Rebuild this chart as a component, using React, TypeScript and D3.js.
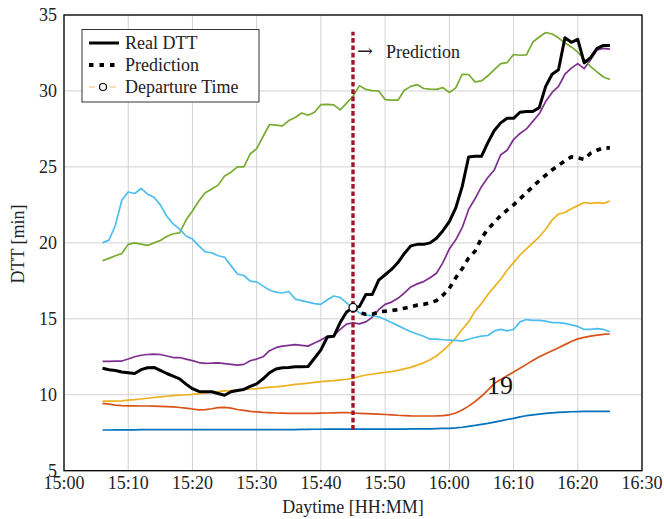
import * as d3 from "d3";
import { useEffect } from "react";

// minutes after 15:00, one sample per minute (15:06 .. 16:25)
const minutes = d3.range(6, 86);
const predMinutes = d3.range(45, 86);

const realDTT = [
  11.75, 11.65, 11.6, 11.5, 11.45, 11.4, 11.65, 11.78, 11.8, 11.6,
  11.4, 11.23, 11.05, 10.7, 10.4, 10.22, 10.2, 10.2, 10.08, 9.97,
  10.2, 10.28, 10.35, 10.55, 10.72, 11.05, 11.45, 11.7, 11.78, 11.8,
  11.85, 11.85, 11.86, 12.4, 12.95, 13.8, 13.85, 14.75, 15.45, 15.75,
  15.8, 16.6, 16.6, 17.55, 17.9, 18.25, 18.7, 19.3, 19.8, 19.9,
  19.9, 20.0, 20.3, 20.8, 21.4, 22.3, 23.7, 25.65, 25.7, 25.7,
  26.6, 27.4, 27.9, 28.2, 28.2, 28.6, 28.65, 28.65, 28.9, 30.3,
  31.1, 31.4, 33.5, 33.2, 33.4, 31.85, 32.2, 32.8, 33.0, 33.0,
];

const prediction = [
  15.75, 15.4, 15.3, 15.3, 15.45, 15.5, 15.55, 15.6, 15.7, 15.8,
  15.9, 15.95, 16.05, 16.2, 16.55, 17.0, 17.7, 18.3, 19.0, 19.45,
  20.3, 20.9, 21.35, 21.8, 22.15, 22.5, 22.9, 23.3, 23.7, 24.1,
  24.45, 24.8, 25.1, 25.4, 25.66, 25.6, 25.5, 25.9, 26.1, 26.25, 26.25,
];

const blueSeries = [
  7.68, 7.68, 7.69, 7.69, 7.69, 7.69, 7.7, 7.7, 7.7, 7.7,
  7.7, 7.7, 7.7, 7.7, 7.7, 7.7, 7.7, 7.7, 7.7, 7.7,
  7.7, 7.7, 7.7, 7.7, 7.7, 7.7, 7.7, 7.7, 7.7, 7.7,
  7.71, 7.72, 7.72, 7.73, 7.73, 7.74, 7.74, 7.74, 7.74, 7.74,
  7.74, 7.74, 7.74, 7.74, 7.74, 7.74, 7.74, 7.74, 7.75, 7.75,
  7.75, 7.76, 7.77, 7.78, 7.79, 7.82, 7.86, 7.92, 7.98, 8.05,
  8.12, 8.2, 8.28, 8.37, 8.45, 8.54, 8.62, 8.68, 8.73, 8.77,
  8.81, 8.84, 8.86, 8.88, 8.89, 8.9, 8.9, 8.9, 8.9, 8.9,
];

const orangeSeries = [
  9.43, 9.38, 9.32, 9.28, 9.27, 9.27, 9.26, 9.26, 9.25, 9.24,
  9.22, 9.2, 9.16, 9.12, 9.06, 9.0, 9.02, 9.08, 9.15, 9.17,
  9.12, 9.03, 8.97, 8.9, 8.87, 8.84, 8.82, 8.8, 8.79, 8.78,
  8.78, 8.78, 8.78, 8.78, 8.79, 8.8, 8.81, 8.82, 8.82, 8.8,
  8.78, 8.76, 8.74, 8.72, 8.7, 8.68, 8.65, 8.63, 8.61, 8.6,
  8.6, 8.6, 8.61, 8.63, 8.68, 8.8, 9.0, 9.25, 9.55, 9.9,
  10.3, 10.75, 11.0, 11.25, 11.5, 11.75, 12.0, 12.25, 12.5, 12.7,
  12.9, 13.1, 13.3, 13.5, 13.68, 13.78, 13.86, 13.92, 13.97, 14.0,
];

const yellowSeries = [
  9.58, 9.58, 9.58, 9.6, 9.65, 9.68, 9.72, 9.77, 9.82, 9.86,
  9.9, 9.94, 9.98, 10.0, 10.03, 10.07, 10.12, 10.16, 10.2, 10.25,
  10.28, 10.32, 10.35, 10.38, 10.4, 10.45, 10.5, 10.52, 10.57, 10.62,
  10.68, 10.72, 10.76, 10.82, 10.86, 10.9, 10.93, 10.98, 11.02, 11.08,
  11.2, 11.3, 11.35, 11.42, 11.47, 11.52, 11.6, 11.7, 11.8, 11.95,
  12.1, 12.3, 12.55, 12.9, 13.3, 13.75, 14.3, 14.8, 15.5, 16.0,
  16.6, 17.1, 17.6, 18.2, 18.7, 19.2, 19.6, 20.0, 20.4, 20.9,
  21.5, 21.9, 22.0, 22.25, 22.45, 22.65, 22.6, 22.65, 22.6, 22.76,
];

const purpleSeries = [
  12.2, 12.2, 12.22, 12.22, 12.35, 12.5, 12.6, 12.65, 12.68, 12.65,
  12.55, 12.45, 12.45, 12.35, 12.25, 12.12, 12.07, 12.08, 12.1, 12.05,
  12.0, 11.95, 12.0, 12.24, 12.35, 12.5, 12.9, 13.1, 13.2, 13.25,
  13.3, 13.25, 13.2, 13.4, 13.6, 13.85, 13.9, 14.3, 14.65, 14.74,
  14.67, 14.8, 15.1, 15.6, 15.95, 16.1, 16.35, 16.7, 17.1, 17.3,
  17.45, 17.7, 18.0, 18.7, 19.6, 20.2, 21.0, 22.2, 22.9, 23.7,
  24.3, 24.8, 25.8, 26.1, 26.8, 27.2, 27.5, 28.0, 28.5, 29.3,
  29.9, 30.3, 31.1, 31.5, 31.8, 31.47, 32.05, 32.7, 32.8, 32.75,
];

const greenSeries = [
  18.82, 18.98, 19.15, 19.3, 19.9, 20.0, 19.92, 19.83, 20.0, 20.15,
  20.42, 20.6, 20.66, 21.5, 22.1, 22.75, 23.3, 23.55, 23.8, 24.4,
  24.65, 25.0, 25.0, 25.85, 26.2, 27.0, 27.79, 27.75, 27.7, 28.05,
  28.25, 28.55, 28.4, 28.6, 29.1, 29.12, 29.08, 28.75, 29.2, 29.65,
  30.35, 30.1, 30.02, 30.0, 29.43, 29.4, 29.39, 30.05, 30.3, 30.42,
  30.16, 30.12, 30.1, 30.22, 29.9, 30.2, 31.1, 31.08, 30.6, 30.66,
  31.0, 31.4, 31.8, 31.87, 32.4, 32.35, 32.38, 33.22, 33.55, 33.85,
  33.75, 33.5, 33.15, 32.9, 32.55, 32.1, 31.6, 31.25, 30.92, 30.75,
];

const cyanSeries = [
  20.0, 20.18, 21.16, 22.8, 23.35, 23.25, 23.58, 23.2, 23.0, 22.5,
  21.75, 21.25, 20.9, 20.45, 20.25, 19.8, 19.4, 19.35, 19.15, 19.05,
  18.5, 17.95, 17.85, 17.48, 17.43, 17.15, 16.9, 16.75, 16.7, 16.8,
  16.3, 16.2, 16.1, 16.0, 15.95, 16.25, 16.5, 16.4, 16.05, 15.7,
  15.4, 15.24, 15.2, 15.13, 14.95, 14.75, 14.55, 14.35, 14.15, 14.0,
  13.85, 13.66, 13.66, 13.62, 13.6, 13.58, 13.53, 13.65, 13.77, 13.86,
  13.9, 14.2, 14.3, 14.2, 14.3, 14.8, 14.95, 14.9, 14.9, 14.85,
  14.75, 14.75, 14.7, 14.6, 14.5, 14.3, 14.3, 14.35, 14.3, 14.15,
];

const backgroundSeries = [
  { values: blueSeries, color: "#0072BD" },
  { values: orangeSeries, color: "#D95319" },
  { values: yellowSeries, color: "#EDB120" },
  { values: purpleSeries, color: "#7E2F8E" },
  { values: greenSeries, color: "#77AC30" },
  { values: cyanSeries, color: "#4DBEEE" },
];

const departureMinute = 45;
const departureValue = 15.75;
const markerRange = [7.7, 33.9];

const xTicks = d3.range(0, 91, 10);
const xTickLabels = ["15:00", "15:10", "15:20", "15:30", "15:40", "15:50", "16:00", "16:10", "16:20", "16:30"];
const yTicks = [5, 10, 15, 20, 25, 30, 35];

const serif = { fontFamily: "Liberation Serif" };

export default function App() {
  useEffect(() => {
    document.body.style.margin = "0";
  }, []);

  const width = 664;
  const height = 519;
  const x = d3.scaleLinear().domain([0, 90]).range([64, 642]);
  const y = d3.scaleLinear().domain([5, 35]).range([470.7, 15]);

  const line = d3.line<number>()
    .x((d, i) => x(minutes[i]))
    .y(d => y(d));
  const predLine = d3.line<number>()
    .x((d, i) => x(predMinutes[i]))
    .y(d => y(d));

  const [x0, x1] = x.range();
  const [y0, y1] = y.range();

  return (
    <svg width={width} height={height} style={{ display: "block", background: "#fff" }}>
      {/* grid */}
      <g stroke="#d2d2d2" strokeWidth={1}>
        {xTicks.map(t => (
          <line key={"gx" + t} x1={x(t)} x2={x(t)} y1={y1} y2={y0} />
        ))}
        {yTicks.map(t => (
          <line key={"gy" + t} x1={x0} x2={x1} y1={y(t)} y2={y(t)} />
        ))}
      </g>

      {/* other routes */}
      <g fill="none" strokeWidth={1.7} strokeLinejoin="round">
        {backgroundSeries.map((s, i) => (
          <path key={i} d={line(s.values) ?? ""} stroke={s.color} />
        ))}
      </g>

      <path d={line(realDTT) ?? ""} fill="none" stroke="#000" strokeWidth={3} strokeLinejoin="round" />
      <path d={predLine(prediction) ?? ""} fill="none" stroke="#000" strokeWidth={3.6} strokeDasharray="5,5.5" />

      <line
        x1={x(departureMinute)} x2={x(departureMinute)}
        y1={y(markerRange[0])} y2={y(markerRange[1])}
        stroke="#A2142F" strokeWidth={3.4} strokeDasharray="4.7,2.6"
      />
      <circle cx={x(departureMinute)} cy={y(departureValue)} r={4} fill="#fff" stroke="#000" strokeWidth={1.2} />

      <text x={357} y={57} fontSize={18} fill="#222" style={{ fontFamily: "DejaVu Serif" }}
        textLength={16} lengthAdjust="spacingAndGlyphs">{"\u2192"}</text>
      <text x={386} y={58} fontSize={18} fill="#222" style={serif}>Prediction</text>
      <text x={500} y={394} fontSize={26} textAnchor="middle" fill="#111" style={serif}>19</text>

      {/* axes box */}
      <rect x={x0} y={y1} width={x1 - x0} height={y0 - y1} fill="none" stroke="#000" strokeWidth={1.3} />

      {/* tick labels */}
      {xTicks.map((t, i) => (
        <text key={"tx" + t} x={x(t)} y={489} textAnchor="middle" fontSize={18} fill="#222" style={serif}>
          {xTickLabels[i]}
        </text>
      ))}
      {yTicks.map(t => (
        <text key={"ty" + t} x={57} y={y(t)} dy="0.35em" textAnchor="end" fontSize={18} fill="#222" style={serif}>
          {t}
        </text>
      ))}
      <text x={353} y={513} textAnchor="middle" fontSize={18} fill="#222" style={serif}>Daytime [HH:MM]</text>
      <text transform="translate(24,244) rotate(-90)" textAnchor="middle" fontSize={18} fill="#222" style={serif}>
        DTT [min]
      </text>

      {/* legend */}
      <rect x={82} y={29.5} width={177} height={72.5} fill="#fff" stroke="#333" strokeWidth={1} />
      <line x1={89} x2={119} y1={43} y2={43} stroke="#000" strokeWidth={3} />
      <line x1={89} x2={120} y1={65} y2={65} stroke="#000" strokeWidth={3.8} strokeDasharray="4.5,6" />
      <line x1={89} x2={95} y1={87} y2={87} stroke="#f2c77c" strokeWidth={1.2} />
      <line x1={110} x2={116} y1={87} y2={87} stroke="#f2c77c" strokeWidth={1.2} />
      <circle cx={103} cy={87} r={3.5} fill="#fff" stroke="#000" strokeWidth={1.2} />
      <text x={125} y={49} fontSize={18} fill="#222" style={serif}>Real DTT</text>
      <text x={125} y={71} fontSize={18} fill="#222" style={serif}>Prediction</text>
      <text x={125} y={93} fontSize={18} fill="#222" style={serif}>Departure Time</text>
    </svg>
  );
}
